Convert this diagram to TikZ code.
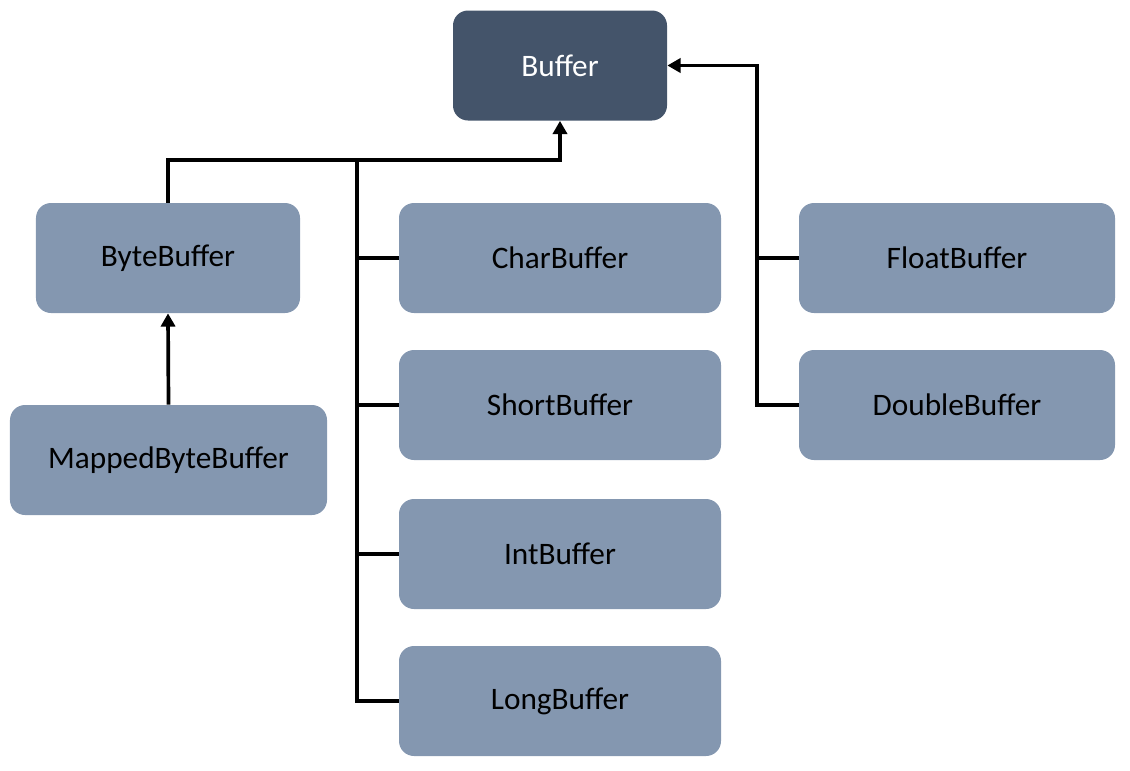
\documentclass[tikz,border=0pt]{standalone}
\usepackage{fontspec}
\setmainfont{Carlito}
\usepackage{tikz}
\usetikzlibrary{arrows.meta, positioning, calc}
\definecolor{darkslate}{HTML}{44546A}
\definecolor{lightslate}{HTML}{8497B0}
\tikzset{>={Triangle[length=7.5pt,width=8pt]}}
\tikzset{
  cls/.style={rounded corners=3mm, fill=lightslate, text=black, minimum height=22mm, font=\fontsize{17.8}{20}\selectfont},
  root/.style={cls, fill=darkslate, text=white},
  link/.style={line width=2.1pt}
}

\begin{document}
\begin{tikzpicture}[x=0.2mm,y=-0.2mm]
			\useasboundingbox (0,0) rectangle (1130,770);
			\node[root, minimum width=42.8mm] (buffer) at (560,65.5) {Buffer};
			\node[cls, minimum width=52.8mm] (byte) at (168,258) {ByteBuffer};
			\node[cls, minimum width=63.4mm] (mapped) at (168.5,460) {MappedByteBuffer};
			\node[cls, minimum width=64.4mm] (char) at (560,258) {CharBuffer};
			\node[cls, minimum width=64.4mm] (short) at (560,405) {ShortBuffer};
			\node[cls, minimum width=64.4mm] (int) at (560,554) {IntBuffer};
			\node[cls, minimum width=64.4mm] (long) at (560,701) {LongBuffer};
			\node[cls, minimum width=63.2mm] (float) at (957,258) {FloatBuffer};
			\node[cls, minimum width=63.2mm] (double) at (957,405) {DoubleBuffer};
			\coordinate (jl) at (357,160);
			\coordinate (jr) at (757,0);
			% left branch
			\draw[link,->] (byte.north) |- (jl) -| (buffer.south);
			\draw[link] (jl) |- (long.west);
			\draw[link] (jl |- char.west) -- (char.west);
			\draw[link] (jl |- short.west) -- (short.west);
			\draw[link] (jl |- int.west) -- (int.west);
			\draw[link,->] (mapped.north) -- (byte.south);
			% right branch
			\draw[link,->] (double.west) -| (jr |- buffer.east) -- (buffer.east);
			\draw[link] (jr |- float.west) -- (float.west);
		\end{tikzpicture}
\end{document}
